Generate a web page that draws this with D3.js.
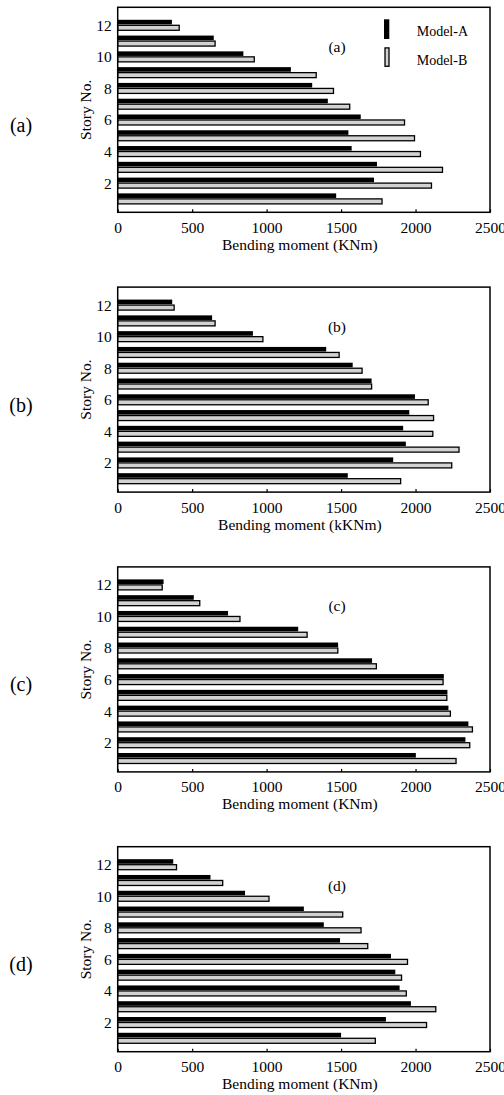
<!DOCTYPE html>
<html>
<head>
<meta charset="utf-8">
<script src="https://cdn.jsdelivr.net/npm/d3@7"></script>
<style>
  body { margin: 0; background: #fff; }
  svg text { font-family: "Liberation Serif", "Times New Roman", serif; fill: #000; }
</style>
</head>
<body>
<div id="chart"></div>
<script>

// story numbers (bottom to top)
const stories = [1, 2, 3, 4, 5, 6, 7, 8, 9, 10, 11, 12];
const storyTicks = [2, 4, 6, 8, 10, 12];
const momentTicks = [0, 500, 1000, 1500, 2000, 2500];

// bending moment per story, story 1 .. 12
const modelA_a = [1467, 1721, 1741, 1571, 1549, 1632, 1411, 1306, 1163, 844, 645, 364];
const modelB_a = [1775, 2107, 2181, 2033, 1993, 1926, 1558, 1449, 1333, 917, 654, 413];

const modelA_b = [1545, 1850, 1935, 1917, 1958, 1996, 1705, 1578, 1400, 908, 634, 366];
const modelB_b = [1900, 2243, 2292, 2116, 2121, 2085, 1705, 1641, 1487, 975, 654, 379];

const modelA_c = [2002, 2335, 2355, 2221, 2214, 2190, 1708, 1480, 1212, 741, 511, 308];
const modelB_c = [2272, 2364, 2382, 2234, 2210, 2185, 1737, 1478, 1272, 821, 551, 299];

const modelA_d = [1500, 1801, 1969, 1893, 1864, 1835, 1493, 1384, 1250, 855, 623, 373];
const modelB_d = [1730, 2074, 2136, 1938, 1906, 1946, 1679, 1634, 1511, 1016, 705, 395];

const panelLabels = ["(a)", "(b)", "(c)", "(d)"];
const axisTitles = ["Bending moment (KNm)", "Bending moment (kKNm)", "Bending moment (KNm)", "Bending moment (KNm)"];
const seriesNames = ["Model-A", "Model-B"];

const panels = [
    { a: modelA_a, b: modelB_a },
    { a: modelA_b, b: modelB_b },
    { a: modelA_c, b: modelB_c },
    { a: modelA_d, b: modelB_d }
];

const wsvg = 504;
const hsvg = 1095;
const left = 117.7;
const right = 490;
const hplot = 205;
const firstTop = 7.3;
const step = 279.8;
const grayFill = "#d2d2d2";

const svg = d3.select("#chart").append("svg")
    .attr("width", wsvg)
    .attr("height", hsvg)
    .attr("viewBox", `0 0 ${wsvg} ${hsvg}`);

const xScale = d3.scaleLinear([0, 2500], [left, right]);
const yScale = d3.scaleLinear([0.15, 13.14], [hplot, 0]);

panels.forEach((p, i) => {
    const g = svg.append("g")
        .attr("transform", `translate(0, ${firstTop + i * step})`);

    // bars
    const rows = stories.map((s, k) => ({ story: s, a: p.a[k], b: p.b[k] }));

    g.selectAll(".barA")
        .data(rows)
        .enter()
        .append("rect")
        .attr("class", "barA")
        .attr("x", xScale(0))
        .attr("y", d => yScale(d.story) - 5.5)
        .attr("width", d => xScale(d.a) - xScale(0))
        .attr("height", 4.6)
        .attr("fill", "#000");

    g.selectAll(".barB")
        .data(rows)
        .enter()
        .append("rect")
        .attr("class", "barB")
        .attr("x", xScale(0))
        .attr("y", d => yScale(d.story))
        .attr("width", d => xScale(d.b) - xScale(0))
        .attr("height", 5)
        .attr("fill", grayFill)
        .attr("stroke", "#000")
        .attr("stroke-width", 1.3);

    // axes
    const xAxis = d3.axisBottom(xScale)
        .tickValues(momentTicks)
        .tickFormat(d3.format("d"))
        .tickSizeInner(-3)
        .tickSizeOuter(0)
        .tickPadding(9.5);

    const xAxisG = g.append("g")
        .attr("transform", `translate(0, ${hplot})`)
        .call(xAxis);
    xAxisG.select(".domain").remove();
    xAxisG.selectAll("line").attr("stroke", "#000").attr("stroke-width", 1.2);
    xAxisG.selectAll("text").attr("font-size", 15.5);

    const yAxis = d3.axisLeft(yScale)
        .tickValues(storyTicks)
        .tickSize(0)
        .tickPadding(6);

    const yAxisG = g.append("g")
        .attr("transform", `translate(${left}, 0)`)
        .call(yAxis);
    yAxisG.select(".domain").remove();
    yAxisG.selectAll("text").attr("font-size", 15.5);

    // frame
    g.append("rect")
        .attr("x", left)
        .attr("y", 0)
        .attr("width", right - left)
        .attr("height", hplot)
        .attr("fill", "none")
        .attr("stroke", "#000")
        .attr("stroke-width", 1.5);

    // titles
    g.append("text")
        .attr("x", (left + right) / 2 - 4)
        .attr("y", hplot + 37.5)
        .attr("text-anchor", "middle")
        .attr("font-size", 15.5)
        .text(axisTitles[i]);

    g.append("text")
        .attr("transform", `translate(91, ${hplot / 2}) rotate(-90)`)
        .attr("text-anchor", "middle")
        .attr("font-size", 15.5)
        .text("Story No.");

    g.append("text")
        .attr("x", 337)
        .attr("y", 44.5)
        .attr("text-anchor", "middle")
        .attr("font-size", 15.5)
        .text(panelLabels[i]);

    g.append("text")
        .attr("x", 21)
        .attr("y", 124.5)
        .attr("text-anchor", "middle")
        .attr("font-size", 20)
        .text(panelLabels[i]);

    // legend only on the first panel
    if (i === 0) {
        const legend = g.append("g");
        legend.append("rect")
            .attr("x", 384).attr("y", 12)
            .attr("width", 5.3).attr("height", 19.7)
            .attr("fill", "#000");
        legend.append("rect")
            .attr("x", 385).attr("y", 40.6)
            .attr("width", 4).attr("height", 18.4)
            .attr("fill", grayFill)
            .attr("stroke", "#000")
            .attr("stroke-width", 1.3);
        seriesNames.forEach((name, k) => {
            legend.append("text")
                .attr("x", 416.7)
                .attr("y", 28.3 + k * 29)
                .attr("font-size", 14)
                .text(name);
        });
    }
});

</script>
</body>
</html>
